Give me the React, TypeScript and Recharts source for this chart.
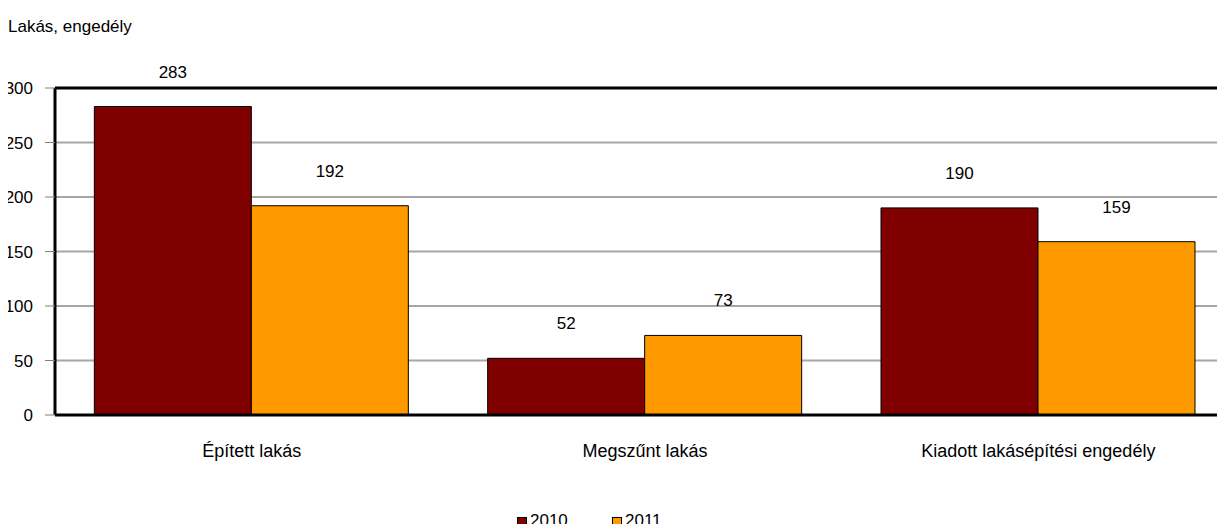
import { BarChart, Bar, XAxis, YAxis, CartesianGrid, Legend, LabelList, ReferenceLine } from "recharts";

const categories = ["Épített lakás", "Megszűnt lakás", "Kiadott lakásépítési engedély"];
const values2010 = [283, 52, 190];
const values2011 = [192, 73, 159];
const yTicks = [0, 50, 100, 150, 200, 250, 300];

const data = categories.map((name, i) => ({ name, y2010: values2010[i], y2011: values2011[i] }));

const FONT = "'Liberation Sans', Arial, sans-serif";
const txt = { fill: "#000", fontSize: 17, fontFamily: FONT };

function LegendBox({ payload }: { payload?: { value: string; color: string }[] }) {
  return (
    <div style={{ position: "relative", height: 21, fontFamily: FONT, fontSize: 17, lineHeight: "21px", color: "#000" }}>
      {(payload ?? []).map((p, i) => (
        <div key={p.value} style={{ position: "absolute", left: 517 + i * 95, top: 0, height: 21, width: 60 }}>
          <span
            style={{
              position: "absolute",
              left: 0,
              top: 7,
              width: 8,
              height: 8,
              background: p.color,
              border: "1px solid #000",
            }}
          />
          <span style={{ position: "absolute", left: 13, top: 0 }}>{p.value}</span>
        </div>
      ))}
    </div>
  );
}

export default function App() {
  return (
    <div style={{ position: "relative", margin: -8, width: 1225, height: 532, overflow: "hidden", fontFamily: FONT }}>
      <div style={{ position: "absolute", left: 8, top: 17, fontSize: 17, color: "#000" }}>Lakás, engedély</div>
      <BarChart
        width={1240}
        height={532}
        data={data}
        margin={{ top: 88, right: 5, left: 0, bottom: 0 }}
        barCategoryGap="10%"
        barGap={0}
      >
        <CartesianGrid vertical={false} stroke="#a6a6a6" strokeWidth={2} />
        <XAxis
          dataKey="name"
          tick={{ ...txt, fontSize: 18 }}
          tickLine={false}
          axisLine={{ stroke: "#000", strokeWidth: 3 }}
          tickMargin={23}
          height={96}
          interval={0}
        />
        <YAxis
          width={55}
          domain={[0, 300]}
          ticks={yTicks}
          tick={txt}
          tickSize={10}
          tickMargin={12}
          tickLine={{ stroke: "#808080" }}
          axisLine={{ stroke: "#000", strokeWidth: 3 }}
        />
        <ReferenceLine y={300} stroke="#000" strokeWidth={3} />
        <Legend
          verticalAlign="bottom"
          content={<LegendBox />}
          wrapperStyle={{ left: 0, top: 510, width: 1225, height: 21 }}
        />
        <Bar dataKey="y2010" name="2010" fill="#800000" stroke="#000" strokeWidth={1} isAnimationActive={false}>
          <LabelList dataKey="y2010" position="top" offset={29} style={txt} />
        </Bar>
        <Bar dataKey="y2011" name="2011" fill="#FF9900" stroke="#000" strokeWidth={1} isAnimationActive={false}>
          <LabelList dataKey="y2011" position="top" offset={29} style={txt} />
        </Bar>
      </BarChart>
    </div>
  );
}
